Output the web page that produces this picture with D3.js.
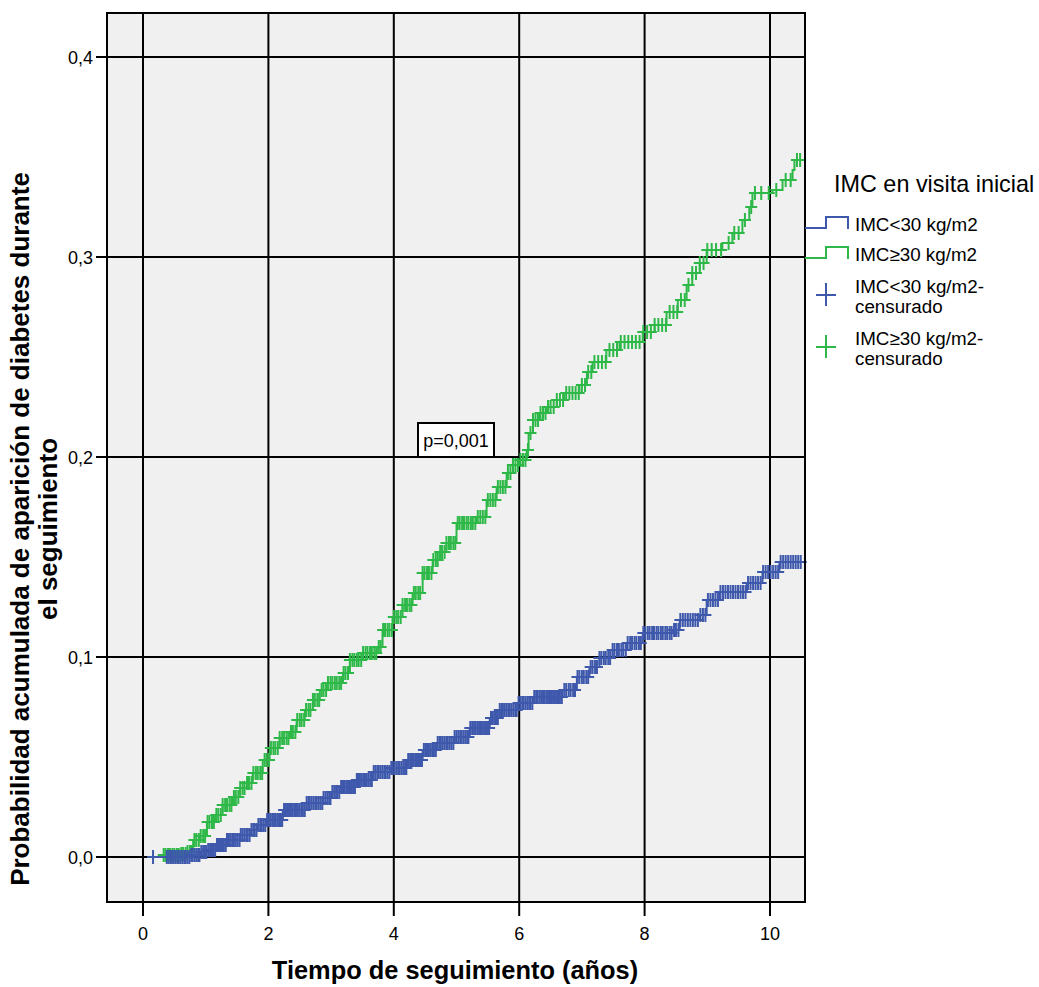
<!DOCTYPE html>
<html><head><meta charset="utf-8">
<script src="https://cdn.jsdelivr.net/npm/d3@7"></script>
<style>body{margin:0;background:#fff}svg{display:block}text{font-family:Arial,"Liberation Sans",sans-serif;fill:#000}</style>
</head><body><svg id="c" width="1039" height="987"></svg>
<script>
// ---- data ----
const xTicks = [0, 2, 4, 6, 8, 10];
const xTickLabels = ["0", "2", "4", "6", "8", "10"];
const yTicks = [0, 0.1, 0.2, 0.3, 0.4];
const yTickLabels = ["0,0", "0,1", "0,2", "0,3", "0,4"];
const seriesNames = ["IMC<30 kg/m2", "IMC≥30 kg/m2"];
const censorNames = ["IMC<30 kg/m2-", "IMC≥30 kg/m2-"];
const pValueLabel = "p=0,001";

// IMC<30 : event step times (years) and cumulative probability
const lowTimes = [0.10,0.75,0.91,1.02,1.18,1.34,1.55,1.71,1.82,1.98,2.23,2.61,2.87,3.01,3.14,3.41,3.67,3.94,4.21,4.46,4.69,4.97,5.21,5.53,5.69,5.98,6.22,6.69,6.92,7.12,7.28,7.49,7.71,7.97,8.45,8.56,8.88,8.99,9.20,9.63,9.88,10.15,10.50];
const lowCum   = [0,0.001,0.0025,0.0035,0.006,0.0085,0.011,0.0135,0.016,0.0185,0.0235,0.027,0.0295,0.0325,0.035,0.0385,0.0425,0.0445,0.0485,0.0535,0.057,0.060,0.0645,0.0695,0.0735,0.077,0.080,0.0835,0.090,0.095,0.0995,0.1035,0.107,0.112,0.1135,0.1185,0.121,0.1285,0.1325,0.137,0.1425,0.1475,0.1475];
const lowCensor = [0.16,0.38,0.41,0.44,0.46,0.49,0.52,0.55,0.57,0.6,0.63,0.66,0.68,0.71,0.74,0.77,0.79,0.82,0.85,0.88,0.9,0.93,0.96,0.99,1.01,1.04,1.07,1.1,1.12,1.15,1.18,1.21,1.23,1.26,1.29,1.32,1.34,1.37,1.4,1.43,1.45,1.48,1.51,1.54,1.56,1.59,1.62,1.65,1.67,1.7,1.73,1.76,1.78,1.81,1.84,1.87,1.89,1.92,1.95,1.98,2.0,2.03,2.06,2.09,2.11,2.14,2.17,2.2,2.22,2.25,2.28,2.31,2.33,2.36,2.39,2.42,2.44,2.47,2.5,2.53,2.55,2.58,2.61,2.64,2.66,2.69,2.72,2.75,2.77,2.8,2.83,2.86,2.88,2.91,2.94,2.97,2.99,3.02,3.05,3.08,3.1,3.13,3.16,3.19,3.21,3.24,3.27,3.3,3.32,3.35,3.38,3.41,3.43,3.46,3.49,3.52,3.54,3.57,3.6,3.63,3.65,3.68,3.71,3.74,3.76,3.79,3.82,3.85,3.87,3.9,3.93,3.96,3.98,4.01,4.04,4.07,4.09,4.12,4.15,4.18,4.2,4.23,4.26,4.29,4.31,4.34,4.37,4.4,4.42,4.45,4.48,4.51,4.53,4.56,4.59,4.62,4.64,4.67,4.7,4.73,4.75,4.78,4.81,4.84,4.86,4.89,4.92,4.95,4.97,5.0,5.03,5.06,5.08,5.11,5.14,5.17,5.19,5.22,5.25,5.28,5.3,5.33,5.36,5.39,5.41,5.44,5.47,5.5,5.52,5.55,5.58,5.61,5.63,5.66,5.69,5.72,5.74,5.77,5.8,5.83,5.85,5.88,5.91,5.94,5.96,5.99,6.02,6.05,6.07,6.1,6.13,6.16,6.18,6.21,6.24,6.27,6.29,6.32,6.35,6.38,6.4,6.43,6.46,6.49,6.51,6.54,6.57,6.6,6.62,6.65,6.68,6.72,6.75,6.79,6.82,6.86,6.89,6.93,6.96,7.0,7.03,7.07,7.1,7.14,7.17,7.21,7.24,7.28,7.31,7.35,7.38,7.42,7.45,7.49,7.52,7.56,7.59,7.63,7.66,7.7,7.73,7.77,7.8,7.84,7.87,7.91,7.94,7.98,8.01,8.05,8.08,8.12,8.15,8.19,8.22,8.26,8.29,8.33,8.36,8.4,8.43,8.47,8.5,8.54,8.57,8.61,8.65,8.69,8.73,8.77,8.81,8.85,8.89,8.93,8.97,9.01,9.05,9.09,9.13,9.17,9.21,9.25,9.29,9.33,9.37,9.41,9.45,9.49,9.53,9.57,9.61,9.65,9.69,9.73,9.77,9.81,9.85,9.89,9.93,9.97,10.01,10.05,10.09,10.13,10.17,10.21,10.25,10.29,10.33,10.37,10.41,10.45,10.49];

// IMC>=30
const highTimes = [0.30,0.32,0.59,0.70,0.80,0.91,1.02,1.15,1.27,1.42,1.55,1.66,1.75,1.91,2.02,2.18,2.34,2.45,2.58,2.71,2.82,2.93,3.19,3.30,3.51,3.73,3.82,3.98,4.14,4.30,4.46,4.62,4.73,4.84,5.00,5.32,5.48,5.64,5.80,5.90,6.01,6.12,6.15,6.22,6.33,6.44,6.60,6.72,6.96,7.08,7.17,7.39,7.60,7.97,8.16,8.35,8.53,8.67,8.76,8.88,8.99,9.24,9.40,9.56,9.67,9.72,10.04,10.20,10.36,10.39,10.50];
const highCum   = [0,0.001,0.0015,0.0025,0.0085,0.0105,0.0175,0.021,0.026,0.030,0.0345,0.037,0.042,0.0485,0.0545,0.0595,0.0625,0.0685,0.0735,0.0785,0.0835,0.087,0.092,0.0985,0.102,0.105,0.1135,0.12,0.126,0.132,0.142,0.1485,0.1525,0.157,0.167,0.170,0.1785,0.185,0.192,0.196,0.1985,0.2035,0.212,0.2185,0.222,0.225,0.2285,0.232,0.236,0.2425,0.2475,0.2535,0.2575,0.2625,0.266,0.2725,0.2785,0.286,0.292,0.297,0.3035,0.307,0.312,0.3185,0.325,0.332,0.3335,0.3385,0.3435,0.3485,0.3485];
const highCensor = [0.33,0.36,0.4,0.43,0.47,0.5,0.54,0.57,0.61,0.64,0.68,0.71,0.75,0.78,0.82,0.85,0.89,0.92,0.96,0.99,1.03,1.06,1.1,1.13,1.17,1.2,1.24,1.27,1.31,1.34,1.38,1.41,1.45,1.48,1.52,1.55,1.59,1.62,1.66,1.69,1.73,1.76,1.8,1.83,1.87,1.9,1.94,1.97,2.01,2.04,2.08,2.11,2.15,2.18,2.22,2.25,2.29,2.32,2.36,2.39,2.43,2.46,2.5,2.53,2.57,2.6,2.64,2.67,2.71,2.74,2.78,2.81,2.85,2.88,2.92,2.95,2.99,3.02,3.06,3.09,3.13,3.16,3.2,3.23,3.27,3.3,3.34,3.37,3.41,3.44,3.48,3.51,3.55,3.58,3.62,3.65,3.69,3.72,3.76,3.79,3.83,3.86,3.9,3.93,3.97,4.0,4.04,4.07,4.11,4.14,4.18,4.21,4.25,4.28,4.32,4.35,4.39,4.42,4.46,4.49,4.53,4.56,4.6,4.63,4.67,4.7,4.74,4.77,4.81,4.84,4.88,4.91,4.95,4.98,5.02,5.05,5.09,5.12,5.16,5.19,5.23,5.26,5.3,5.34,5.38,5.42,5.46,5.5,5.54,5.58,5.62,5.66,5.7,5.74,5.78,5.82,5.86,5.9,5.94,5.98,6.02,6.06,6.1,6.14,6.18,6.22,6.26,6.3,6.34,6.38,6.42,6.46,6.5,6.55,6.6,6.65,6.7,6.75,6.8,6.85,6.9,6.95,7.0,7.05,7.1,7.15,7.2,7.26,7.32,7.38,7.44,7.5,7.56,7.62,7.68,7.74,7.8,7.86,7.92,7.98,8.04,8.1,8.16,8.22,8.28,8.34,8.4,8.46,8.52,8.58,8.64,8.7,8.76,8.82,8.88,8.94,9.0,9.07,9.14,9.22,9.34,9.43,9.5,9.6,9.7,9.76,9.86,9.98,10.1,10.25,10.33,10.43,10.48];

const colors = ["#3E58AC", "#2EB848"];

// ---- chart ----
const svg = d3.select("#c");
const L = 107, R = 805, T = 13, B = 902;
const x = d3.scaleLinear().domain([0, 10]).range([143, 770]);
const y = d3.scaleLinear().domain([0, 0.4]).range([857, 57]);

svg.append("rect").attr("x", L).attr("y", T).attr("width", R - L).attr("height", B - T).attr("fill", "#f0f0f0");

const g = svg.append("g");
g.selectAll(".vg").data(xTicks).join("line")
  .attr("x1", d => x(d)).attr("x2", d => x(d)).attr("y1", T).attr("y2", B + 14)
  .attr("stroke", "#000").attr("stroke-width", 2);
g.selectAll(".hg").data(yTicks).join("line")
  .attr("y1", d => y(d)).attr("y2", d => y(d)).attr("x1", L - 11).attr("x2", R)
  .attr("stroke", "#000").attr("stroke-width", 2);

svg.selectAll(".xl").data(xTicks).join("text")
  .attr("x", d => x(d)).attr("y", 940).attr("text-anchor", "middle")
  .attr("font-size", 18).text((d, i) => xTickLabels[i]);
svg.selectAll(".yl").data(yTicks).join("text")
  .attr("x", 93).attr("y", d => y(d) + 7).attr("text-anchor", "end")
  .attr("font-size", 18).text((d, i) => yTickLabels[i]);

function stepVal(times, cum, t) {
  const i = d3.bisectRight(times, t) - 1;
  return cum[Math.max(0, i)];
}
const series = [
  {times: lowTimes, cum: lowCum, cens: lowCensor, color: colors[0]},
  {times: highTimes, cum: highCum, cens: highCensor, color: colors[1]}
];
const line = d3.line().x(d => x(d[0])).y(d => y(d[1])).curve(d3.curveStepAfter);
const plot = svg.append("g");
[series[1], series[0]].forEach(s => {
  const pts = s.times.map((t, i) => [t, s.cum[i]]);
  plot.append("path").attr("d", line(pts)).attr("fill", "none")
    .attr("stroke", s.color).attr("stroke-width", 2);
  plot.append("g").selectAll("path").data(s.cens).join("path")
    .attr("d", t => {
      const cx = x(t), cy = y(stepVal(s.times, s.cum, t));
      return `M${cx - 6},${cy}H${cx + 6}M${cx},${cy - 7}V${cy + 7}`;
    })
    .attr("stroke", s.color).attr("stroke-width", 2).attr("fill", "none");
});

// frame
svg.append("rect").attr("x", L).attr("y", T).attr("width", R - L).attr("height", B - T)
  .attr("fill", "none").attr("stroke", "#000").attr("stroke-width", 2);

// p value box
const pb = svg.append("g");
pb.append("rect").attr("x", 418).attr("y", 423).attr("width", 76).attr("height", 34)
  .attr("fill", "#fff").attr("stroke", "#000").attr("stroke-width", 2);
pb.append("text").attr("x", 456).attr("y", 447).attr("text-anchor", "middle").attr("font-size", 18).text(pValueLabel);

// axis titles
svg.append("text").attr("x", 455).attr("y", 979).attr("text-anchor", "middle")
  .attr("font-size", 25.4).attr("font-weight", "bold").text("Tiempo de seguimiento (años)");
const yt = svg.append("text").attr("transform", "translate(0,529) rotate(-90)")
  .attr("text-anchor", "middle").attr("font-size", 26).attr("font-weight", "bold");
yt.append("tspan").attr("x", 0).attr("y", 29).text("Probabilidad acumulada de aparición de diabetes durante");
yt.append("tspan").attr("x", 0).attr("y", 57).text("el seguimiento");

// legend
const lg = svg.append("g");
lg.append("text").attr("x", 834).attr("y", 192).attr("font-size", 23.4).text("IMC en visita inicial");
const stepY = [223, 253];
colors.forEach((c, i) => {
  const yb = stepY[i];
  lg.append("path").attr("d", `M805,${yb + 5}H826V${yb - 6}H848V${yb + 6}`)
    .attr("fill", "none").attr("stroke", c).attr("stroke-width", 2);
  lg.append("text").attr("x", 855).attr("y", yb + 8).attr("font-size", 18.8).text(seriesNames[i]);
});
const plusY = [295, 347];
colors.forEach((c, i) => {
  const py = plusY[i];
  lg.append("path").attr("d", `M816,${py}H836M826,${py - 12}V${py + 11}`)
    .attr("fill", "none").attr("stroke", c).attr("stroke-width", 2);
  const t = lg.append("text").attr("font-size", 18.8);
  t.append("tspan").attr("x", 855).attr("y", py - 2).text(censorNames[i]);
  t.append("tspan").attr("x", 855).attr("y", py + 18).text("censurado");
});
</script></body></html>
